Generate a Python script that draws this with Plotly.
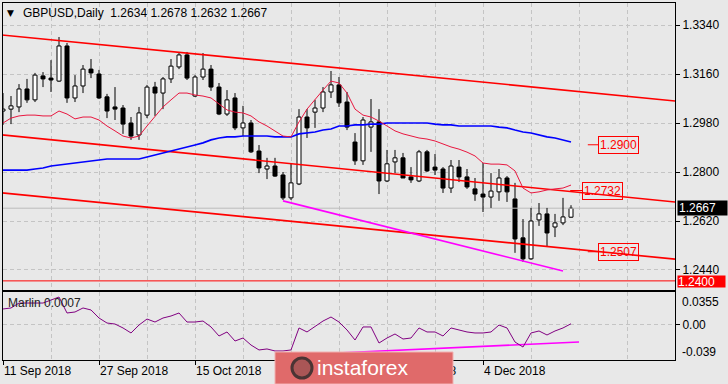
import plotly.graph_objects as go
import pandas as pd

W, H = 728, 384
BG = "#e8e8e8"
GRID = "#c4c4c4"
FONT = "Liberation Sans, Arial, sans-serif"

# ---------------- data ----------------
dates = pd.bdate_range("2018-09-11", periods=72)
bars = list(range(len(dates)))

opens = [1.3024, 1.3031, 1.3039, 1.3105, 1.3065, 1.3153, 1.3145, 1.3134, 1.3263, 1.3072,
         1.3116, 1.3178, 1.3160, 1.3076, 1.3039, 1.3035, 1.2980, 1.2936, 1.3009, 1.3112,
         1.3090, 1.3142, 1.3186, 1.3230, 1.3079, 1.3149, 1.3178, 1.3112, 1.3013, 1.3072,
         1.2962, 1.2980, 1.2877, 1.2811, 1.2822, 1.2789, 1.2705, 1.2756, 1.3002, 1.3020,
         1.3035, 1.3094, 1.3120, 1.3057, 1.2910, 1.2841, 1.2965, 1.2984, 1.2767, 1.2837,
         1.2852, 1.2782, 1.2767, 1.2874, 1.2818, 1.2811, 1.2741, 1.2818, 1.2782, 1.2738,
         1.2719, 1.2708, 1.2727, 1.2778, 1.2701, 1.2558, 1.2481, 1.2624, 1.2646, 1.2598,
         1.2613, 1.2634]
highs = [1.3090, 1.3079, 1.3123, 1.3142, 1.3164, 1.3167, 1.3211, 1.3296, 1.3274, 1.3156,
         1.3193, 1.3215, 1.3175, 1.3087, 1.3112, 1.3046, 1.3002, 1.3039, 1.3120, 1.3131,
         1.3149, 1.3215, 1.3241, 1.3241, 1.3156, 1.3237, 1.3193, 1.3127, 1.3101, 1.3090,
         1.3043, 1.2991, 1.2899, 1.2852, 1.2852, 1.2800, 1.2833, 1.3031, 1.3031, 1.3065,
         1.3112, 1.3171, 1.3149, 1.3094, 1.2943, 1.3002, 1.3068, 1.3031, 1.2881, 1.2881,
         1.2870, 1.2818, 1.2881, 1.2881, 1.2866, 1.2818, 1.2844, 1.2844, 1.2811, 1.2778,
         1.2833, 1.2796, 1.2811, 1.2785, 1.2760, 1.2627, 1.2668, 1.2686, 1.2668, 1.2646,
         1.2705, 1.2678]
lows = [1.2973, 1.2976, 1.3020, 1.3054, 1.3057, 1.3112, 1.3094, 1.3131, 1.3054, 1.3057,
        1.3090, 1.3145, 1.3068, 1.2998, 1.2991, 1.2940, 1.2918, 1.2918, 1.2998, 1.3006,
        1.3031, 1.3127, 1.3178, 1.3138, 1.3076, 1.3138, 1.3098, 1.3009, 1.3006, 1.2954,
        1.2932, 1.2870, 1.2796, 1.2774, 1.2782, 1.2697, 1.2697, 1.2752, 1.2925, 1.2962,
        1.3020, 1.3072, 1.3039, 1.2954, 1.2826, 1.2826, 1.2874, 1.2719, 1.2763, 1.2796,
        1.2778, 1.2760, 1.2763, 1.2800, 1.2789, 1.2723, 1.2723, 1.2763, 1.2738, 1.2694,
        1.2653, 1.2668, 1.2694, 1.2690, 1.2503, 1.2470, 1.2477, 1.2602, 1.2525, 1.2561,
        1.2605, 1.2632]
closes = [1.3031, 1.3043, 1.3105, 1.3065, 1.3156, 1.3142, 1.3138, 1.3263, 1.3072, 1.3116,
          1.3178, 1.3164, 1.3072, 1.3024, 1.3031, 1.2976, 1.2932, 1.3017, 1.3112, 1.3090,
          1.3142, 1.3189, 1.3230, 1.3145, 1.3149, 1.3178, 1.3112, 1.3013, 1.3065, 1.2962,
          1.2980, 1.2874, 1.2815, 1.2822, 1.2785, 1.2705, 1.2760, 1.3002, 1.2962, 1.3035,
          1.3094, 1.3120, 1.3054, 1.2965, 1.2841, 1.2991, 1.2984, 1.2767, 1.2830, 1.2852,
          1.2778, 1.2771, 1.2874, 1.2804, 1.2807, 1.2741, 1.2822, 1.2782, 1.2745, 1.2719,
          1.2708, 1.2730, 1.2778, 1.2727, 1.2554, 1.2481, 1.2620, 1.2646, 1.2576, 1.2613,
          1.2635, 1.2667]

ma_fast = [1.2980, 1.2998, 1.3006, 1.3009, 1.3009, 1.3006, 1.3006, 1.3024, 1.3013, 1.2995,
           1.3002, 1.3002, 1.2991, 1.2969, 1.2951, 1.2932, 1.2925, 1.2932, 1.2969, 1.3006,
           1.3039, 1.3065, 1.3090, 1.3090, 1.3083, 1.3079, 1.3072, 1.3050, 1.3028, 1.3020,
           1.3017, 1.3006, 1.2984, 1.2969, 1.2951, 1.2932, 1.2929, 1.2984, 1.3031, 1.3068,
           1.3101, 1.3134, 1.3127, 1.3090, 1.3031, 1.3009, 1.3002, 1.2987, 1.2969, 1.2951,
           1.2940, 1.2932, 1.2925, 1.2921, 1.2914, 1.2903, 1.2892, 1.2884, 1.2873, 1.2859,
           1.2833, 1.2829, 1.2829, 1.2826, 1.2804, 1.2741, 1.2723, 1.2727, 1.2734, 1.2738,
           1.2741, 1.2752]
ma_slow = [1.2807, 1.2807, 1.2807, 1.2807, 1.2811, 1.2815, 1.2822, 1.2826, 1.2829, 1.2833,
           1.2837, 1.2840, 1.2844, 1.2848, 1.2848, 1.2848, 1.2848, 1.2848, 1.2855, 1.2862,
           1.2870, 1.2877, 1.2884, 1.2892, 1.2899, 1.2907, 1.2918, 1.2925, 1.2929, 1.2929,
           1.2932, 1.2932, 1.2932, 1.2932, 1.2929, 1.2929, 1.2929, 1.2940, 1.2943, 1.2947,
           1.2954, 1.2958, 1.2969, 1.2969, 1.2973, 1.2973, 1.2976, 1.2976, 1.2980, 1.2980,
           1.2980, 1.2980, 1.2980, 1.2980, 1.2976, 1.2973, 1.2973, 1.2969, 1.2969, 1.2969,
           1.2969, 1.2969, 1.2965, 1.2962, 1.2954, 1.2947, 1.2943, 1.2936, 1.2929, 1.2925,
           1.2918, 1.2910]
marlin = [0.0169, 0.0180, 0.0234, 0.0234, 0.0234, 0.0234, 0.0267, 0.0300, 0.0125, 0.0136,
          0.0180, 0.0158, 0.0070, 0.0015, 0.0004, -0.0039, -0.0094, -0.0007, 0.0059, 0.0026,
          0.0070, 0.0092, 0.0125, 0.0026, 0.0026, 0.0037, -0.0028, -0.0127, -0.0083, -0.0182,
          -0.0149, -0.0226, -0.0280, -0.0269, -0.0291, -0.0291, -0.0280, -0.0039, -0.0083, -0.0018,
          0.0037, 0.0081, 0.0026, -0.0061, -0.0171, -0.0028, -0.0028, -0.0204, -0.0149, -0.0105,
          -0.0160, -0.0149, -0.0039, -0.0083, -0.0083, -0.0127, -0.0039, -0.0061, -0.0083, -0.0094,
          -0.0094, -0.0083, -0.0007, -0.0039, -0.0193, -0.0248, -0.0094, -0.0072, -0.0116, -0.0072,
          -0.0039, 0.0007]

# drawn objects (time index, price)
channel_x = [-1, 84]
channel_upper = [1.3306, 1.3061]
channel_mid = [1.2939, 1.2690]
channel_low = [1.2726, 1.2480]
trend_x = [35, 70]
trend_y = [1.2694, 1.2436]
marlin_trend_x = [35, 72]
marlin_trend_y = [-0.0340, -0.0193]
level_values = [1.2900, 1.2732, 1.2507]
level_box_x = [74.4, 72.4, 74.4]
level_lead_x = [73.1, 70.9, 73.1]
bid_price = 1.2667
support_price = 1.2400

price_ticks = [1.2440, 1.2620, 1.2800, 1.2980, 1.3160, 1.3340]
date_ticks = [0, 12, 24, 36, 48, 60]
date_labels = [f"{dates[i].day} {dates[i]:%b %Y}" for i in date_ticks]
marlin_max, marlin_min = 0.0355, -0.039

# ---------------- layout geometry (pixels) ----------------
def px(x):
    return x / W

def py(y):
    return 1 - y / H

XL, XR = px(2.5), px(675)
MAIN_DOM = [py(290), py(2.5)]
IND_DOM = [py(360), py(292)]
XRANGE = [-0.0625, 84]
YRANGE = [1.23665, 1.34227]

fig = go.Figure()

# horizontal levels
fig.add_trace(go.Scatter(x=XRANGE, y=[bid_price] * 2, mode="lines",
                         line=dict(color="#bcbcbc", width=1), xaxis="x", yaxis="y"))
fig.add_trace(go.Scatter(x=XRANGE, y=[support_price] * 2, mode="lines",
                         line=dict(color="#ff0000", width=1), xaxis="x", yaxis="y"))

# candle bodies
body_base = [min(o, c) for o, c in zip(opens, closes)]
body_h = [abs(c - o) for o, c in zip(opens, closes)]
body_col = ["white" if c >= o else "black" for o, c in zip(opens, closes)]
fig.add_trace(go.Bar(x=bars, y=body_h, base=body_base, width=0.5,
                     marker=dict(color=body_col, line=dict(color="black", width=1)),
                     xaxis="x", yaxis="y"))
# wicks
wx, wy = [], []
for i, o, hh, ll, c in zip(bars, opens, highs, lows, closes):
    top, bot = max(o, c), min(o, c)
    wx += [i, i, None, i, i, None]
    wy += [hh, top, None, bot, ll, None]
fig.add_trace(go.Scatter(x=wx, y=wy, mode="lines", line=dict(color="black", width=1),
                         xaxis="x", yaxis="y"))

# channel
for ys in (channel_upper, channel_mid, channel_low):
    fig.add_trace(go.Scatter(x=channel_x, y=ys, mode="lines",
                             line=dict(color="#ff0000", width=1.6), xaxis="x", yaxis="y"))
fig.add_trace(go.Scatter(x=trend_x, y=trend_y, mode="lines",
                         line=dict(color="#ff00ff", width=1.6), xaxis="x", yaxis="y"))

# moving averages
fig.add_trace(go.Scatter(x=bars, y=ma_slow, mode="lines",
                         line=dict(color="#0000ff", width=1.6), xaxis="x", yaxis="y"))
fig.add_trace(go.Scatter(x=bars, y=ma_fast, mode="lines",
                         line=dict(color="#e8173f", width=1), xaxis="x", yaxis="y"))

# level labels leader lines
lx, ly = [], []
for v, x0, x1 in zip(level_values, level_lead_x, level_box_x):
    lx += [x0, x1, None]
    ly += [v, v, None]
fig.add_trace(go.Scatter(x=lx, y=ly, mode="lines", line=dict(color="#ff0000", width=1),
                         xaxis="x", yaxis="y"))

# indicator
fig.add_trace(go.Scatter(x=marlin_trend_x, y=marlin_trend_y, mode="lines",
                         line=dict(color="#ff00ff", width=1.6), xaxis="x2", yaxis="y2"))
fig.add_trace(go.Scatter(x=bars, y=marlin, mode="lines",
                         line=dict(color="#800080", width=1), xaxis="x2", yaxis="y2"))

axis_common = dict(showline=True, linecolor="black", linewidth=1, mirror=True,
                   zeroline=False, gridcolor=GRID, griddash="4px,3px", gridwidth=1,
                   tickfont=dict(family=FONT, size=12, color="black"))

fig.update_layout(
    width=W, height=H, margin=dict(l=0, r=0, t=0, b=0, pad=0),
    paper_bgcolor=BG, plot_bgcolor=BG, showlegend=False, hovermode=False,
    font=dict(family=FONT, size=12, color="black"),
    xaxis=dict(domain=[XL, XR], range=XRANGE, anchor="y", tickmode="array",
               tickvals=list(range(0, 85, 6)), showticklabels=False, ticks="",
               showgrid=True, **axis_common),
    yaxis=dict(domain=MAIN_DOM, range=YRANGE, anchor="x", side="right", tickmode="array",
               tickvals=price_ticks, ticktext=[f"{v:.4f}" for v in price_ticks],
               ticks="outside", ticklen=4, tickcolor="black", showgrid=True, **axis_common),
    xaxis2=dict(domain=[XL, XR], range=XRANGE, anchor="y2", tickmode="array",
                tickvals=date_ticks, ticktext=date_labels, ticks="outside", ticklen=4,
                tickcolor="black", ticklabelposition="outside right", showgrid=True,
                minor=dict(tickmode="array", tickvals=list(range(6, 85, 12)), showgrid=True,
                           gridcolor=GRID, griddash="4px,3px", ticks=""),
                **axis_common),
    yaxis2=dict(domain=IND_DOM, range=[marlin_min, marlin_max], anchor="x2", side="right",
                tickmode="array", tickvals=[0], ticktext=["0.00"], ticks="outside", ticklen=4,
                tickcolor="black", showgrid=True, **axis_common),
)

ann = []
# title
ann.append(dict(text="▼", x=px(5), y=py(13), xref="paper", yref="paper", xanchor="left",
                yanchor="middle", showarrow=False, font=dict(size=9, color="black", family="DejaVu Sans")))
ann.append(dict(text="GBPUSD,Daily  %.4f %.4f %.4f %.4f" % (opens[-1], highs[-1], lows[-1], closes[-1]),
                x=px(21), y=py(13), xref="paper", yref="paper", xanchor="left", yanchor="middle",
                showarrow=False, font=dict(size=12, color="black", family=FONT)))
ann.append(dict(text="Marlin %.4f" % marlin[-1], x=px(6), y=py(303), xref="paper", yref="paper",
                xanchor="left", yanchor="middle", showarrow=False,
                font=dict(size=12, color="#202020", family=FONT)))
# level boxes
for v, bx in zip(level_values, level_box_x):
    ann.append(dict(text="%.4f" % v, x=bx, y=v, xref="x", yref="y", xanchor="left",
                    yanchor="middle", showarrow=False, font=dict(size=12, color="#ff0000", family=FONT),
                    bordercolor="#ff0000", borderwidth=1, borderpad=1))
# price tags on axis
ann.append(dict(text="%.4f" % bid_price, x=px(677), y=bid_price, xref="paper", yref="y",
                xanchor="left", yanchor="middle", showarrow=False, bgcolor="black",
                font=dict(size=12, color="white", family=FONT), width=47, height=12,
                align="left", borderpad=1))
ann.append(dict(text="%.4f" % support_price, x=px(677), y=support_price, xref="paper", yref="y",
                xanchor="left", yanchor="middle", showarrow=False, bgcolor="#ff0000",
                font=dict(size=12, color="white", family=FONT), width=47, height=11,
                align="left", borderpad=0, yshift=-1))
# indicator max/min labels
ann.append(dict(text=f"{marlin_max}", x=px(680), y=py(302), xref="paper", yref="paper",
                xanchor="left", yanchor="middle", showarrow=False,
                font=dict(size=12, color="black", family=FONT)))
ann.append(dict(text=f"{marlin_min}", x=px(680), y=py(352), xref="paper", yref="paper",
                xanchor="left", yanchor="middle", showarrow=False,
                font=dict(size=12, color="black", family=FONT)))
# watermark
ann.append(dict(text="instaforex", x=px(363), y=py(367), xref="paper", yref="paper",
                xanchor="center", yanchor="middle", showarrow=False,
                font=dict(size=21, color="white", family=FONT)))
fig.update_layout(annotations=ann)

fig.add_shape(type="rect", xref="paper", yref="paper", x0=px(275), x1=px(453),
              y0=py(384), y1=py(352), fillcolor="#e06a6a", line=dict(color="#f2b0b0", width=1),
              layer="above")
fig.add_shape(type="circle", xref="paper", yref="paper", x0=px(292), x1=px(312),
              y0=py(378), y1=py(358), fillcolor="rgba(70,50,50,0.35)", line=dict(color="#4a3434", width=3),
              layer="above")

fig.write_html("out.html", config={"displayModeBar": False},
               post_script="document.body.style.margin='0';document.body.style.padding='0';"
                           "document.documentElement.style.overflow='hidden';")
